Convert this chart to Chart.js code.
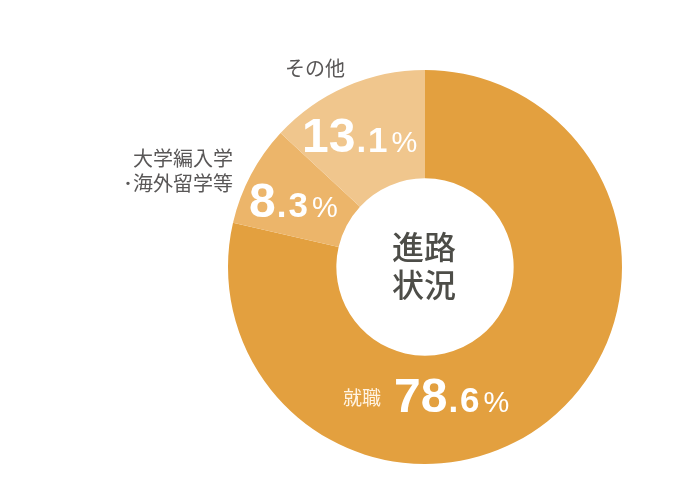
<!DOCTYPE html>
<html>
<head>
<meta charset="utf-8">
<script src="https://cdn.jsdelivr.net/npm/chart.js@4"></script>
<style>
  body { margin: 0; background: #fff; }
</style>
</head>
<body>
<canvas id="courseChart" width="700" height="500"></canvas>
<script>
// Data
const categories = ['就職', '大学編入学・海外留学等', 'その他'];
const shares = [78.6, 8.3, 13.1];
const sliceColors = ['#E3A03F', '#ECB56A', '#F0C68D'];

const JP = '"Noto Sans CJK JP", "Noto Sans", sans-serif';
const NUM = '"Liberation Sans", Arial, sans-serif';

// draws "78.6%" with big integer part, smaller decimal and percent sign
function drawPercent(ctx, value, x, y) {
  const parts = value.toFixed(1).split('.');
  ctx.textAlign = 'left';
  ctx.textBaseline = 'alphabetic';
  ctx.fillStyle = '#fff';
  ctx.font = 'bold 48px ' + NUM;
  ctx.fillText(parts[0], x, y);
  x += ctx.measureText(parts[0]).width + 1;
  ctx.font = 'bold 35px ' + NUM;
  ctx.fillText('.', x, y);
  x += ctx.measureText('.').width + 2;
  ctx.fillText(parts[1], x, y);
  x += ctx.measureText(parts[1]).width + 4;
  ctx.font = '29px ' + NUM;
  ctx.fillText('%', x, y);
}

const labelsPlugin = {
  id: 'labels',
  afterDraw(chart) {
    const ctx = chart.ctx;
    ctx.save();

    // center title
    ctx.fillStyle = '#4d4d48';
    ctx.font = '500 32px ' + JP;
    ctx.textAlign = 'center';
    ctx.textBaseline = 'middle';
    ctx.fillText('進路', 424, 247);
    ctx.fillText('状況', 424, 285);

    // outside labels
    ctx.fillStyle = '#595757';
    ctx.font = '20px ' + JP;
    ctx.fillText('その他', 315, 68);
    ctx.textAlign = 'right';
    ctx.fillText('大学編入学', 233, 158);
    ctx.fillText('･海外留学等', 233, 183);

    // inside label
    ctx.fillStyle = '#fff3e2';
    ctx.font = '19px ' + JP;
    ctx.textAlign = 'center';
    ctx.fillText(categories[0], 362, 398);

    drawPercent(ctx, shares[0], 394, 412);
    drawPercent(ctx, shares[1], 249, 217);
    drawPercent(ctx, shares[2], 302, 152);

    ctx.restore();
  }
};

new Chart(document.getElementById('courseChart').getContext('2d'), {
  type: 'doughnut',
  data: {
    labels: categories,
    datasets: [{
      data: shares,
      backgroundColor: sliceColors,
      borderWidth: 0,
      hoverOffset: 0
    }]
  },
  options: {
    responsive: false,
    animation: false,
    cutout: '45%',
    layout: { padding: { left: 228, right: 78, top: 70, bottom: 36 } },
    plugins: {
      legend: { display: false },
      tooltip: { enabled: false }
    }
  },
  plugins: [labelsPlugin]
});
</script>
</body>
</html>
